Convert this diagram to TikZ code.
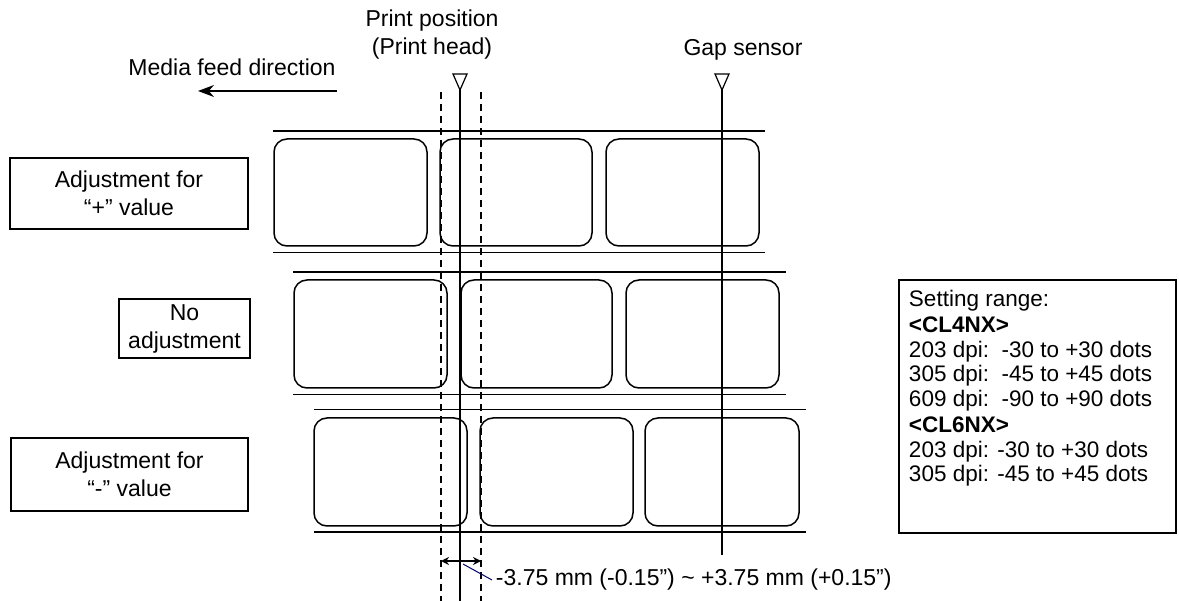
\documentclass[tikz,border=0pt]{standalone}
\usepackage{fontspec}
\setmainfont{Liberation Sans}
\usetikzlibrary{arrows.meta}
\begin{document}
\begin{tikzpicture}[x=1pt,y=-1pt,line width=1.3pt,
  lbl/.style={draw,rounded corners=13pt,line width=1.5pt},
  thick line/.style={line width=2pt},
  thin line/.style={line width=1pt},
  box/.style={draw,line width=1.6pt,align=center,font=\fontsize{23}{28}\selectfont,inner sep=0pt},
  txt/.style={font=\fontsize{23}{28}\selectfont,align=center},
  tri/.style={draw,line width=1.2pt,fill=white}]
\useasboundingbox (0,0) rectangle (1179,601);
% strip 1
\draw[thick line] (273,131) -- (765,131);
\draw[thin line] (273,253) -- (765,253);
\draw[lbl] (274,139) rectangle (427,246);
\draw[lbl] (440,139) rectangle (592,246);
\draw[lbl] (606,139) rectangle (759,246);
% strip 2
\draw[thick line] (293,272) -- (786,272);
\draw[thin line] (293,395) -- (786,395);
\draw[lbl] (294,280) rectangle (447,388);
\draw[lbl] (461,280) rectangle (612,388);
\draw[lbl] (626,280) rectangle (779,388);
% strip 3
\draw[thin line] (314,410) -- (806,410);
\draw[thick line] (314,532) -- (806,532);
\draw[lbl] (314,418) rectangle (467,526);
\draw[lbl] (480,418) rectangle (633,526);
\draw[lbl] (645,418) rectangle (799,526);
% print head and gap sensor
\coordinate (ph) at (460,90);
\coordinate (gs) at (722,90);
\draw (ph) -- (460,601);
\draw (gs) -- (722,555);
\draw[tri] (453,74) -- (467,74) -- (ph) -- cycle;
\draw[tri] (715,74) -- (729,74) -- (gs) -- cycle;
\draw[dash pattern=on 7pt off 5pt,line width=1.5pt] (441,92) -- (441,601);
\draw[dash pattern=on 7pt off 5pt,line width=1.5pt] (481,92) -- (481,601);
% dimension
\coordinate (dl) at (441,561);
\coordinate (dr) at (481,561);
\draw[{Stealth[length=8pt,width=8pt]}-{Stealth[length=8pt,width=8pt]},line width=1.3pt] (dl) -- (dr);
\node[txt,anchor=west] (dim) at (492,580) {-3.75 mm (-0.15”) \textasciitilde{} +3.75 mm (+0.15”)};
\draw[line width=1pt,blue!40!black] (463,564) -- (dim.west);
% top labels
\node[txt] (pp) at (432,35) {Print position\\(Print head)};
\node[txt] (gsl) at (743,50) {Gap sensor};
\node[txt] (mfd) at (232,67) {Media feed direction};
\coordinate (a1) at (337,91);
\coordinate (a2) at (198,91);
\draw[-{Stealth[length=16pt,width=12pt]},line width=1.2pt] (a1) -- (a2);
% left boxes
\node[box,minimum width=238pt,minimum height=71pt] (b1) at (129,193.5) {Adjustment for\\“+” value};
\node[box,minimum width=131pt,minimum height=59pt] (b2) at (184.5,328.5) {No\\adjustment};
\node[box,minimum width=237pt,minimum height=73pt] (b3) at (129.5,474.5) {Adjustment for\\“-” value};
% setting range
\node[draw,line width=1.6pt,minimum width=277pt,minimum height=253pt,inner sep=0pt] (sr) at (1037.5,406.5) {};
\node[txt,anchor=north west,align=left,font=\fontsize{22.5}{24.5}\selectfont] at (905,286) {Setting range:\\[2pt]
\textbf{<CL4NX>}\\
203 dpi:\ \ -30 to +30 dots\\
305 dpi:\ \ -45 to +45 dots\\
609 dpi:\ \ -90 to +90 dots\\[2pt]
\textbf{<CL6NX>}\\
203 dpi: -30 to +30 dots\\
305 dpi: -45 to +45 dots};
\end{tikzpicture}
\end{document}
